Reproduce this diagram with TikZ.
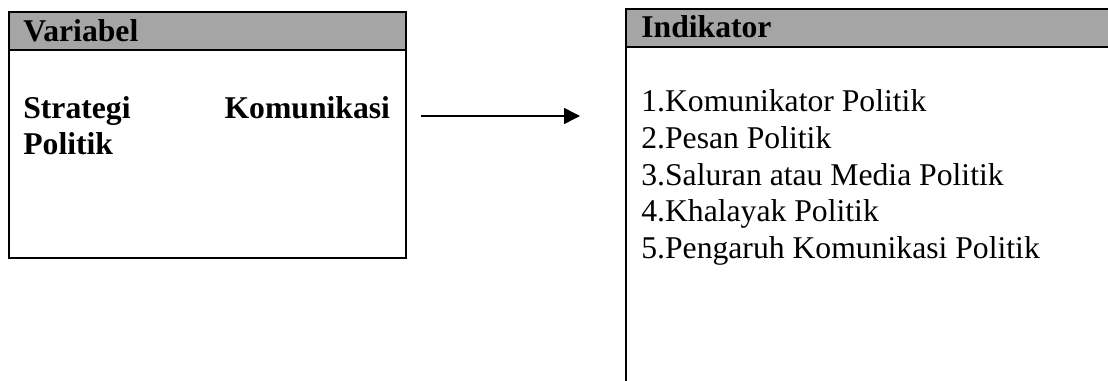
\documentclass[tikz,border=0pt]{standalone}
\usepackage{fontspec}
\setmainfont{Liberation Serif}
\usetikzlibrary{positioning,arrows.meta}
\definecolor{headgray}{HTML}{A5A5A5}

\begin{document}
\begin{tikzpicture}[x=0.6pt,y=-0.6pt,
    box/.style={draw, line width=1pt},
    headbar/.style={draw, fill=headgray, line width=1pt},
    txt/.style={inner sep=0pt, anchor=base west}]
  \useasboundingbox (0,0) rectangle (1108,380);

  % variabel
  \draw[headbar] (9,12) rectangle (406,50);
  \draw[box] (9,12) rectangle (406,258);
  \node[txt, font=\fontsize{19}{22}\selectfont\bfseries] (var) at (23,42) {Variabel};
  \node[txt, font=\fontsize{19}{22}\selectfont\bfseries, text width=220pt]
        (strat) at (23,118) {Strategi\hfill Komunikasi};
  \node[txt, font=\fontsize{19}{22}\selectfont\bfseries] (pol) at (23,154) {Politik};

  % indikator
  \draw[headbar] (626,9) rectangle (1125,47);
  \draw[box] (1125,9) -- (626,9) -- (626,395);
  \node[txt, font=\fontsize{19}{22}\selectfont\bfseries] (ind) at (641,38) {Indikator};
  \foreach \i/\t in {1/Komunikator Politik, 2/Pesan Politik,
                     3/Saluran atau Media Politik, 4/Khalayak Politik,
                     5/Pengaruh Komunikasi Politik}
    \node[txt, font=\fontsize{19}{22}\selectfont] (item\i) at (641,75.4+36.6*\i) {\i.\t};

  \coordinate (arrS) at (421,116);
  \coordinate (arrE) at (580,116);
  \draw[line width=1pt, -{Triangle[length=9.6pt,width=9.6pt]}] (arrS) -- (arrE);
\end{tikzpicture}
\end{document}
